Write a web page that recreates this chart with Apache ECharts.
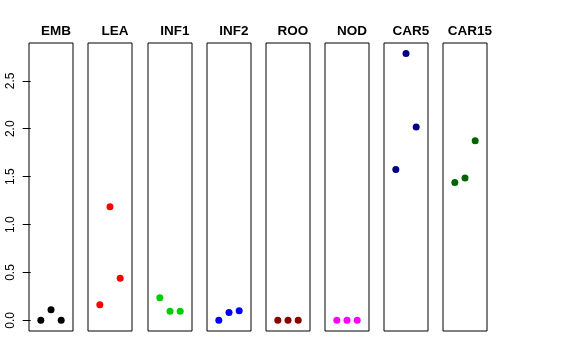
<!DOCTYPE html>
<html>
<head>
<meta charset="utf-8">
<script src="https://cdn.jsdelivr.net/npm/echarts@6/dist/echarts.min.js"></script>
<style>html,body{margin:0;padding:0;background:#fff}#c{width:576px;height:360px}</style>
</head>
<body>
<div id="c"></div>
<script>
const categories = ['EMB','LEA','INF1','INF2','ROO','NOD','CAR5','CAR15'];
const colors = ['#000000','#FF0000','#00CD00','#0000FF','#8B0000','#FF00FF','#000080','#006400'];
const xPositions = [1, 2, 3];
const EMB = [0, 0.11, 0];
const LEA = [0.163, 1.187, 0.439];
const INF1 = [0.236, 0.094, 0.096];
const INF2 = [0, 0.083, 0.100];
const ROO = [0, 0, 0];
const NOD = [0, 0, 0];
const CAR5 = [1.574, 2.786, 2.017];
const CAR15 = [1.438, 1.487, 1.874];
const yTicks = [0, 0.5, 1.0, 1.5, 2.0, 2.5];
const yTickLabels = ['0.0','0.5','1.0','1.5','2.0','2.5'];

const values = [EMB, LEA, INF1, INF2, ROO, NOD, CAR5, CAR15];
const yMin = -0.111, yMax = 2.895;
const font = 'Liberation Sans, Arial, Helvetica, sans-serif';

const grids = [], xAxes = [], yAxes = [], series = [], titles = [];
categories.forEach((cat, i) => {
  const left = Math.round(29.3 + 59.1 * i);
  const width = 44;
  grids.push({left: left, top: 43, width: width, height: 288, show: true,
    borderColor: '#000', borderWidth: 1, backgroundColor: 'transparent'});
  xAxes.push({gridIndex: i, type: 'value', min: -0.16, max: 4.16, show: false});
  yAxes.push({gridIndex: i, type: 'value', min: yMin, max: yMax,
    show: i === 0,
    axisLine: {show: false},
    axisTick: {show: i === 0, inside: false, length: 8, lineStyle: {color: '#000', width: 1},
      customValues: yTicks},
    axisLabel: {show: i === 0, rotate: 90, margin: 12, fontSize: 12, fontFamily: font,
      color: '#000', customValues: yTicks,
      formatter: v => { const k = yTicks.indexOf(v); return k >= 0 ? yTickLabels[k] : ''; }},
    splitLine: {show: false}});
  titles.push({text: cat, left: left + width / 2, top: 19, textAlign: 'center',
    textStyle: {fontSize: 13.5, fontWeight: 'bold', fontFamily: font, color: '#000'}});
  series.push({type: 'scatter', xAxisIndex: i, yAxisIndex: i, symbolSize: 7,
    itemStyle: {color: colors[i], opacity: 1},
    data: xPositions.map((x, k) => [x, values[i][k]]), animation: false, silent: true});
});

const chart = echarts.init(document.getElementById('c'), null, {renderer: 'canvas'});
chart.setOption({animation: false, title: titles, grid: grids, xAxis: xAxes, yAxis: yAxes, series: series});
</script>
</body>
</html>
